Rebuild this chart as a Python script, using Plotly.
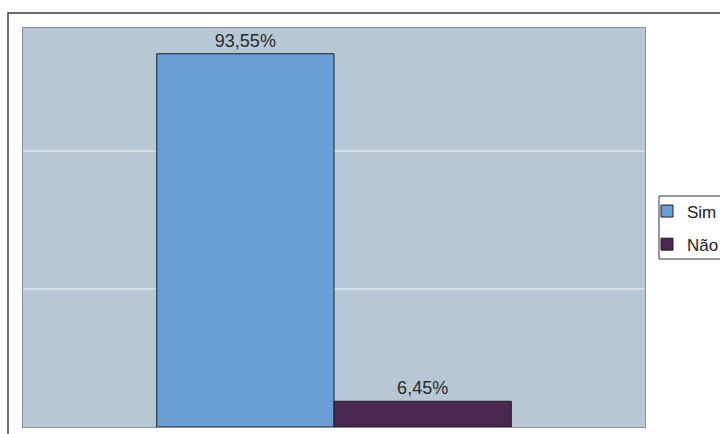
import plotly.graph_objects as go

categories = [""]
series_names = ["Sim", "Não"]
values = [93.55, 6.45]
labels = ["93,55%", "6,45%"]
colors = ["#6A9FD6", "#4B2850"]
grid_vals = [0, 34.6, 69.2]

fig = go.Figure()
for name, v, lab, c in zip(series_names, values, labels, colors):
    fig.add_trace(go.Bar(
        x=categories, y=[v], name=name, text=[lab], textposition="outside",
        textfont=dict(family="Arial, Liberation Sans", size=18, color="#2a2a2a"),
        marker=dict(color=c, line=dict(color="#1c1c28", width=1)),
        cliponaxis=False, legendgroup=name,
    ))

W, H = 720, 434
ml, mr, mt, mb = 23, 75, 28, 7
pw, ph = W - ml - mr, H - mt - mb

def px(x):
    return (x - ml) / pw

def py(y):
    return (H - mb - y) / ph

fig.update_layout(
    width=W, height=H,
    margin=dict(l=ml, r=mr, t=mt, b=mb, autoexpand=False),
    paper_bgcolor="white",
    plot_bgcolor="#B7C7D3",
    barmode="group",
    bargap=0.43,
    bargroupgap=0,
    showlegend=True,
    legend=dict(
        x=px(647), y=py(228), xanchor="left", yanchor="middle",
        bgcolor="rgba(0,0,0,0)", borderwidth=0,
        font=dict(family="Arial, Liberation Sans", size=17, color="#222222"),
        itemwidth=30, tracegroupgap=8,
    ),
    xaxis=dict(showticklabels=False, showgrid=False, zeroline=False,
               showline=True, linecolor="#8a8f94", mirror=True),
    yaxis=dict(range=[0, 100], tickvals=grid_vals, showticklabels=False,
               showgrid=True, gridcolor="#D3DDE6", gridwidth=1.5, zeroline=False,
               showline=True, linecolor="#8a8f94", mirror=True),
    shapes=[
        dict(type="rect", xref="paper", yref="paper",
             x0=px(8), x1=px(723), y0=py(440), y1=py(13),
             line=dict(color="#3a3a3a", width=1.5), layer="below"),
        dict(type="rect", xref="paper", yref="paper",
             x0=px(659), x1=px(726), y0=py(259), y1=py(196),
             line=dict(color="#333333", width=1), fillcolor="white", layer="above"),
    ],
)

fig.write_html("out.html")
